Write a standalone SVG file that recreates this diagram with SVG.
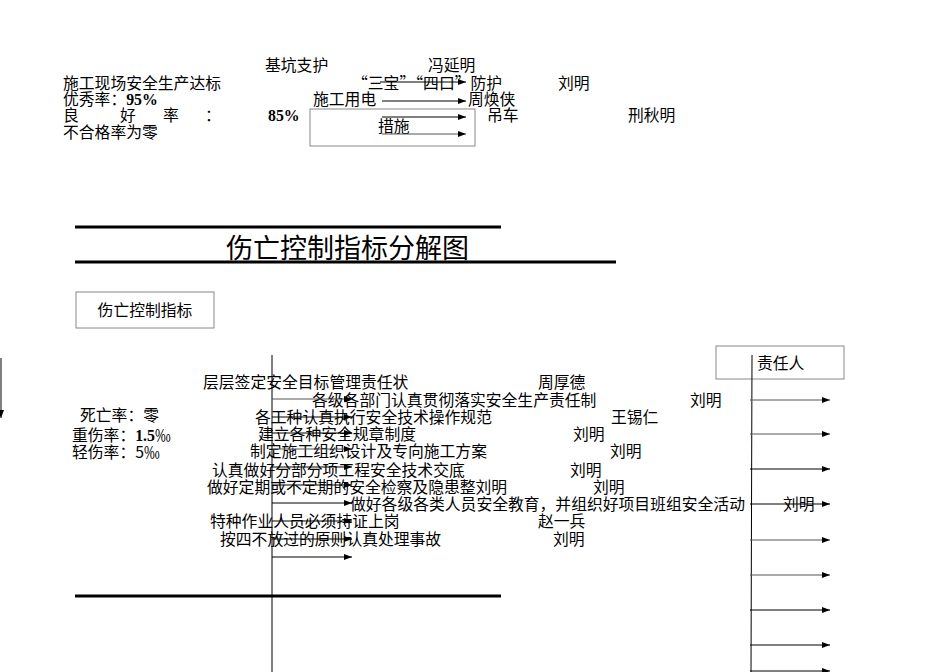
<svg xmlns="http://www.w3.org/2000/svg" width="950" height="672" viewBox="0 0 950 672">
<defs>
<marker id="ah" markerWidth="8" markerHeight="6" refX="8" refY="3" orient="auto" markerUnits="userSpaceOnUse">
<path d="M0,0 L8,3 L0,6 Z" fill="#000"/>
</marker>
<style>
text{font-family:"Noto Sans CJK SC","Liberation Sans",sans-serif;font-size:15.8px;fill:#000}
.b{font-family:"Liberation Serif","Noto Sans CJK SC",serif;font-weight:bold}
.t{font-size:27px}
.ar{stroke:#000;stroke-width:1;fill:none;marker-end:url(#ah)}
.g{stroke:#555}
.box{fill:#fff;stroke:#888;stroke-width:1}
.thick{stroke:#000;stroke-width:3}
</style>
</defs>
<rect width="950" height="672" fill="#fff"/>

<g id="top-block">
<text x="265" y="71">基坑支护</text>
<text x="428" y="71">冯延明</text>
<text x="63" y="89">施工现场安全生产达标</text>
<text x="352" y="89">“三宝”“四口”防护</text>
<text x="558" y="89">刘明</text>
<text x="63" y="105">优秀率：<tspan class="b">95%</tspan></text>
<text x="313" y="105">施工用电</text>
<text x="468" y="105">周焕侠</text>
<text x="63" y="121">良</text>
<text x="120" y="121">好</text>
<text x="163" y="121">率</text>
<text x="205" y="121">：</text>
<text x="268" y="121" class="b">85%</text>
<text x="487" y="121">吊车</text>
<text x="628" y="121">刑秋明</text>
<text x="63" y="138">不合格率为零</text>
</g>
<g id="measures">
<rect class="box" x="310" y="109" width="165" height="37"/>
<text x="378" y="132">措施</text>
</g>

<g id="title">
<line class="thick" x1="75" y1="227" x2="501" y2="227"/>
<text class="t" x="226" y="258">伤亡控制指标分解图</text>
<line class="thick" x1="75" y1="262" x2="616" y2="262"/>
</g>

<g id="indicator">
<rect class="box" x="76" y="292" width="138" height="36"/>
<text x="145" y="316" text-anchor="middle">伤亡控制指标</text>
</g>

<g id="rates">
<text x="80" y="421">死亡率：零</text>
<text x="72" y="441">重伤率：<tspan class="b">1.5</tspan>‰</text>
<text x="72" y="458">轻伤率：5‰</text>
</g>

<g id="tasks">
<text x="203" y="388">层层签定安全目标管理责任状</text>
<text x="538" y="388">周厚德</text>
<text x="312" y="406">各级各部门认真贯彻落实安全生产责任制</text>
<text x="690" y="406">刘明</text>
<text x="255" y="423">各工种认真执行安全技术操作规范</text>
<text x="611" y="423">王锡仁</text>
<text x="258" y="440">建立各种安全规章制度</text>
<text x="573" y="440">刘明</text>
<text x="250" y="457">制定施工组织设计及专向施工方案</text>
<text x="610" y="457">刘明</text>
<text x="212" y="476">认真做好分部分项工程安全技术交底</text>
<text x="570" y="476">刘明</text>
<text x="207" y="493">做好定期或不定期的安全检察及隐患整刘明</text>
<text x="593" y="493">刘明</text>
<text x="350" y="510">做好各级各类人员安全教育，并组织好项目班组安全活动</text>
<text x="783" y="510">刘明</text>
<text x="210" y="527">特种作业人员必须持证上岗</text>
<text x="538" y="527">赵一兵</text>
<text x="220" y="545">按四不放过的原则认真处理事故</text>
<text x="553" y="545">刘明</text>
</g>

<g id="responsible">
<rect class="box" x="716" y="346" width="128" height="33"/>
<text x="757" y="369">责任人</text>
</g>

<g id="connectors">
<line class="ar" x1="380" y1="82" x2="466" y2="82"/>
<line class="ar" x1="382" y1="101" x2="466" y2="101"/>
<line class="ar" x1="382" y1="117" x2="466" y2="117"/>
<line class="ar g" x1="382" y1="134" x2="466" y2="134"/>

<line class="ar" x1="1" y1="358" x2="1" y2="418"/>

<line x1="272" y1="355" x2="272" y2="672" stroke="#000" stroke-width="1"/>
<line class="ar g" x1="272" y1="399" x2="352" y2="399"/>
<line class="ar" x1="272" y1="417" x2="352" y2="417"/>
<line class="ar" x1="272" y1="433" x2="352" y2="433"/>
<line class="ar g" x1="272" y1="449" x2="352" y2="449"/>
<line class="ar" x1="272" y1="467" x2="352" y2="467"/>
<line class="ar" x1="272" y1="485" x2="352" y2="485"/>
<line class="ar" x1="272" y1="503" x2="352" y2="503"/>
<line class="ar" x1="272" y1="521" x2="352" y2="521"/>
<line class="ar" x1="272" y1="539" x2="352" y2="539"/>
<line class="ar" x1="272" y1="557" x2="352" y2="557"/>

<line class="thick" x1="75" y1="596" x2="501" y2="596"/>

<line x1="752" y1="355" x2="751" y2="672" stroke="#000" stroke-width="1"/>
<line class="ar g" x1="750" y1="400" x2="830" y2="400"/>
<line class="ar g" x1="750" y1="434" x2="830" y2="434"/>
<line class="ar" x1="750" y1="469" x2="830" y2="469"/>
<line class="ar" x1="750" y1="504" x2="830" y2="504"/>
<line class="ar g" x1="750" y1="540" x2="830" y2="540"/>
<line class="ar g" x1="750" y1="575" x2="830" y2="575"/>
<line class="ar" x1="750" y1="610" x2="830" y2="610"/>
<line class="ar" x1="750" y1="645" x2="830" y2="645"/>
<line class="ar" x1="750" y1="671" x2="830" y2="671"/>
</g>
</svg>
